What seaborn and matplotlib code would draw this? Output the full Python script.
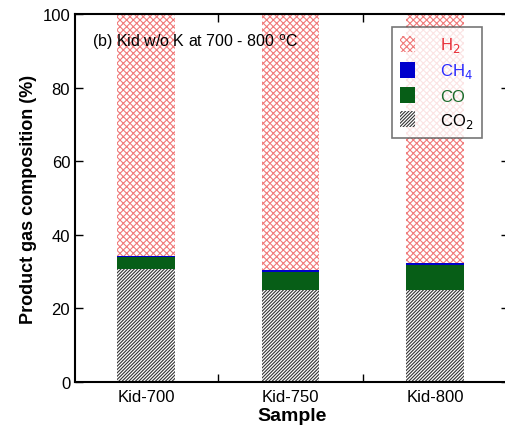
import numpy as np
import pandas as pd
import seaborn as sns
import matplotlib.pyplot as plt
from matplotlib.patches import Patch

samples = ['Kid-700', 'Kid-750', 'Kid-800']
co2 = [30.7, 25.0, 25.0]
co = [3.2, 5.0, 6.9]
ch4 = [0.3, 0.4, 0.4]
h2 = [100 - a - b - c for a, b, c in zip(co2, co, ch4)]

sns.set_theme(style='ticks')
plt.rcParams['font.family'] = ['Liberation Sans', 'DejaVu Sans']
plt.rcParams['hatch.linewidth'] = 0.8
plt.rcParams['text.color'] = 'black'
plt.rcParams['axes.labelcolor'] = 'black'
plt.rcParams['xtick.color'] = 'black'
plt.rcParams['ytick.color'] = 'black'

df = pd.DataFrame({'Sample': samples, 'CO2': co2, 'CO': co, 'CH4': ch4, 'H2': h2})
df['cum_co'] = df['CO2'] + df['CO']
df['cum_ch4'] = df['cum_co'] + df['CH4']
df['cum_h2'] = df['cum_ch4'] + df['H2']

fig = plt.figure(figsize=(5.05, 4.31), dpi=100)
ax = fig.add_axes([75 / 505, 48 / 431, 434 / 505, 368 / 431])

bw = 0.4
layers = [
    ('cum_h2', 'white', '#f07a7a', 'xxxxx'),
    ('cum_ch4', '#0000cc', '#0000cc', None),
    ('cum_co', '#075e17', '#075e17', None),
    ('CO2', 'white', '#333333', '//////////'),
]
for col, face, edge, hatch in layers:
    n0 = len(ax.patches)
    sns.barplot(data=df, x='Sample', y=col, color=face, width=bw, ax=ax,
                saturation=1, errorbar=None)
    for p in ax.patches[n0:]:
        p.set_facecolor(face)
        p.set_edgecolor(edge)
        p.set_linewidth(0)
        if hatch:
            p.set_hatch(hatch)

ax.set_xlim(-0.49, 2.51)
ax.set_ylim(0, 100)
ax.set_yticks(np.arange(0, 101, 20))
ax.set_xticks([0, 1, 2])
ax.set_xticklabels(samples)
ax.set_xticks([0.5, 1.5], minor=True)
ax.tick_params(axis='x', which='major', length=0, labelsize=12, pad=5)
ax.tick_params(axis='x', which='minor', direction='in', length=6, top=True, width=1)
ax.tick_params(axis='y', direction='in', length=6, right=True, labelsize=12, width=1)
for s in ax.spines.values():
    s.set_linewidth(1.5)
    s.set_color('black')

ax.set_xlabel('Sample', fontsize=14, fontweight='bold', labelpad=2)
ax.set_ylabel('Product gas composition (%)', fontsize=13, fontweight='bold', labelpad=4)

ax.text(0.04, 0.925, r'(b) Kid w/o K at 700 - 800 $^{\rm o}$C', transform=ax.transAxes,
        fontsize=11.5, va='center', ha='left')

handles = [
    Patch(facecolor='white', edgecolor='#f07a7a', hatch='xxxxx', linewidth=0),
    Patch(facecolor='#0000cc', edgecolor='#0000cc', linewidth=0),
    Patch(facecolor='#075e17', edgecolor='#075e17', linewidth=0),
    Patch(facecolor='white', edgecolor='#333333', hatch='//////////', linewidth=0),
]
labels = [r'H$_2$', r'CH$_4$', 'CO', r'CO$_2$']
leg = ax.legend(handles, labels, loc='upper left', bbox_to_anchor=(0.73, 0.965),
                borderaxespad=0, fontsize=12, frameon=True, fancybox=False,
                handlelength=0.9, handleheight=1.1, handletextpad=1.5,
                labelspacing=0.42, borderpad=0.5)
leg.get_frame().set_edgecolor('#555555')
leg.get_frame().set_linewidth(1.2)
for t, c in zip(leg.get_texts(), ['#e8303a', '#2a2aff', '#1a6b2a', 'black']):
    t.set_color(c)

fig.savefig('out.png', dpi=100)
